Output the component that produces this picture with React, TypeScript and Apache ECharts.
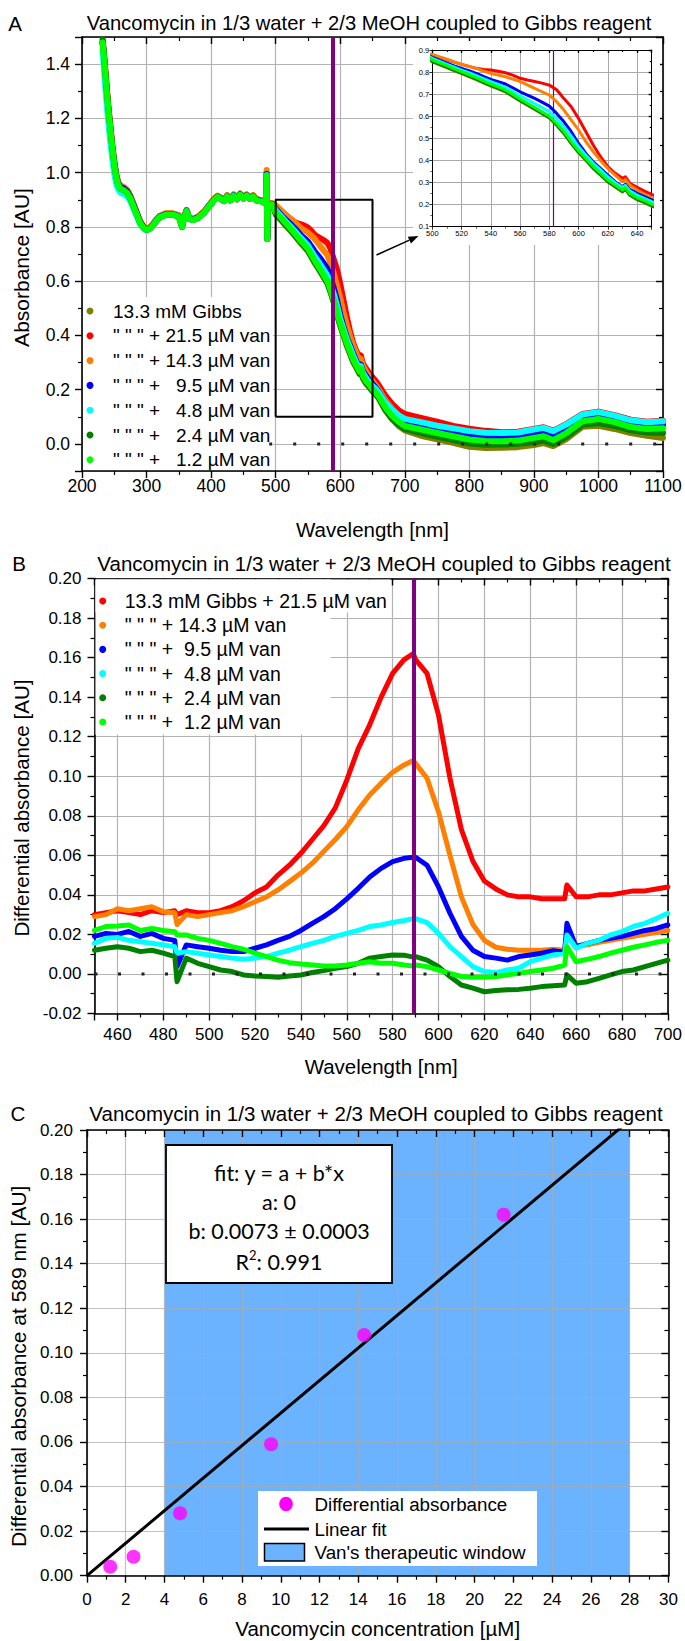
import React, { useEffect, useRef } from "react";
import * as echarts from "echarts";

// ---------- fonts & colours ----------
const FONT = "'Liberation Sans', Arial, sans-serif";
const BOX_FONT = "Lato, 'Open Sans', sans-serif";
const GRID_GRAY = "#b3b3b3";
const PURPLE = "#800080";
const C_OLIVE = "#808000";
const C_RED = "#ff0000";
const C_ORANGE = "#ff8000";
const C_BLUE = "#0000ff";
const C_CYAN = "#00ffff";
const C_DGREEN = "#008000";
const C_GREEN = "#00ff00";
const WINDOW_BLUE = "#6bb3ff";
const MAGENTA = "#ff00ff";

const TITLE = "Vancomycin in 1/3 water + 2/3 MeOH coupled to Gibbs reagent";

// ---------- panel A: absorbance spectra ----------
const aWavelengths = [
  232, 235, 238, 241, 244, 247, 250, 253, 256, 260, 265, 270, 275, 280, 285, 290, 295, 300, 305, 310,
  315, 320, 330, 340, 350, 355, 358, 362, 366, 372, 380, 390, 400, 405, 410, 415, 420, 425, 430, 435,
  440, 445, 450, 455, 460, 465, 470, 475, 480, 485, 486, 487, 488, 490, 495,
  500, 505, 510, 515, 520, 525, 530, 535, 540, 545, 550, 555, 560, 565, 570, 575, 580, 585, 590, 595,
  600, 605, 610, 615, 620, 625, 630, 632, 635, 640, 645, 650,
  655, 660, 670, 680, 690, 700, 725, 750, 775, 800, 825, 850, 875, 900, 915, 930, 950, 975, 1000, 1025,
  1050, 1075, 1100,
];

const aGibbs = [
  1.48, 1.40, 1.31, 1.23, 1.16, 1.09, 1.03, 0.985, 0.955, 0.940, 0.935, 0.925, 0.905, 0.875, 0.845, 0.815, 0.797, 0.789, 0.793, 0.806,
  0.822, 0.835, 0.845, 0.845, 0.838, 0.800, 0.832, 0.858, 0.830, 0.825, 0.833, 0.855, 0.885, 0.900, 0.910, 0.903, 0.895, 0.912, 0.898, 0.915,
  0.902, 0.918, 0.905, 0.915, 0.903, 0.912, 0.898, 0.895, 0.893, 0.885, 0.985, 0.755, 0.885, 0.884, 0.882,
  0.846, 0.833, 0.820, 0.806, 0.793, 0.780, 0.766, 0.751, 0.737, 0.724, 0.710, 0.690, 0.669, 0.650, 0.631, 0.611, 0.592, 0.559, 0.521, 0.476,
  0.435, 0.400, 0.363, 0.333, 0.302, 0.280, 0.257, 0.269, 0.242, 0.222, 0.209, 0.193,
  0.183, 0.166, 0.123, 0.091, 0.067, 0.050, 0.030, 0.017, 0.004, -0.011, -0.015, -0.014, -0.012, -0.004, 0.003, -0.008, 0.018, 0.063, 0.067, 0.055,
  0.040, 0.030, 0.022,
];
const aVan215 = [
  1.48, 1.41, 1.32, 1.24, 1.17, 1.10, 1.04, 0.993, 0.964, 0.950, 0.945, 0.935, 0.913, 0.882, 0.851, 0.820, 0.802, 0.793, 0.797, 0.810,
  0.826, 0.839, 0.849, 0.849, 0.842, 0.804, 0.836, 0.862, 0.834, 0.829, 0.837, 0.859, 0.889, 0.904, 0.914, 0.907, 0.899, 0.916, 0.902, 0.919,
  0.906, 0.922, 0.909, 0.919, 0.907, 0.916, 0.902, 0.899, 0.897, 0.889, 1.000, 0.758, 0.889, 0.888, 0.886,
  0.877, 0.866, 0.855, 0.845, 0.835, 0.826, 0.817, 0.812, 0.809, 0.804, 0.797, 0.786, 0.772, 0.764, 0.757, 0.750, 0.741, 0.720, 0.680, 0.643,
  0.590, 0.530, 0.470, 0.417, 0.372, 0.342, 0.319, 0.326, 0.297, 0.278, 0.261, 0.246,
  0.232, 0.215, 0.178, 0.148, 0.125, 0.110, 0.096, 0.082, 0.066, 0.056, 0.048, 0.043, 0.045, 0.055, 0.061, 0.049, 0.073, 0.110, 0.119, 0.106,
  0.089, 0.082, 0.085,
];
const aVan143 = [
  1.49, 1.41, 1.32, 1.24, 1.17, 1.10, 1.04, 0.995, 0.966, 0.952, 0.947, 0.937, 0.915, 0.884, 0.853, 0.822, 0.803, 0.794, 0.798, 0.811,
  0.827, 0.840, 0.850, 0.850, 0.843, 0.805, 0.837, 0.863, 0.835, 0.830, 0.838, 0.860, 0.890, 0.905, 0.915, 0.908, 0.900, 0.917, 0.903, 0.920,
  0.907, 0.923, 0.910, 0.920, 0.908, 0.917, 0.903, 0.900, 0.898, 0.890, 1.010, 0.760, 0.890, 0.889, 0.887,
  0.880, 0.869, 0.858, 0.846, 0.835, 0.826, 0.817, 0.805, 0.794, 0.787, 0.779, 0.768, 0.757, 0.742, 0.726, 0.711, 0.696, 0.666, 0.628, 0.583,
  0.538, 0.485, 0.440, 0.400, 0.364, 0.334, 0.304, 0.314, 0.289, 0.266, 0.248, 0.231,
  0.216, 0.199, 0.160, 0.130, 0.105, 0.088, 0.072, 0.058, 0.044, 0.028, 0.022, 0.022, 0.024, 0.034, 0.040, 0.030, 0.052, 0.090, 0.102, 0.090,
  0.072, 0.065, 0.068,
];
const aVan95 = [
  1.48, 1.40, 1.31, 1.23, 1.16, 1.09, 1.035, 0.990, 0.960, 0.946, 0.941, 0.931, 0.910, 0.880, 0.849, 0.818, 0.800, 0.791, 0.795, 0.808,
  0.824, 0.837, 0.847, 0.847, 0.840, 0.802, 0.834, 0.860, 0.832, 0.827, 0.835, 0.857, 0.887, 0.902, 0.912, 0.905, 0.897, 0.914, 0.900, 0.917,
  0.904, 0.920, 0.907, 0.917, 0.905, 0.914, 0.900, 0.897, 0.895, 0.887, 0.995, 0.758, 0.887, 0.886, 0.884,
  0.867, 0.853, 0.840, 0.828, 0.817, 0.806, 0.794, 0.780, 0.767, 0.757, 0.746, 0.729, 0.711, 0.696, 0.681, 0.664, 0.646, 0.613, 0.575, 0.530,
  0.477, 0.432, 0.394, 0.364, 0.334, 0.304, 0.281, 0.292, 0.269, 0.251, 0.236, 0.221,
  0.207, 0.190, 0.152, 0.124, 0.102, 0.087, 0.073, 0.059, 0.046, 0.031, 0.026, 0.026, 0.028, 0.038, 0.044, 0.034, 0.056, 0.094, 0.107, 0.094,
  0.076, 0.069, 0.072,
];
const aVan48 = [
  1.45, 1.35, 1.26, 1.18, 1.11, 1.05, 0.995, 0.958, 0.938, 0.925, 0.920, 0.912, 0.893, 0.866, 0.838, 0.810, 0.795, 0.787, 0.792, 0.805,
  0.822, 0.835, 0.845, 0.845, 0.838, 0.800, 0.832, 0.858, 0.830, 0.825, 0.833, 0.855, 0.885, 0.900, 0.910, 0.903, 0.895, 0.912, 0.898, 0.915,
  0.902, 0.918, 0.905, 0.915, 0.903, 0.912, 0.898, 0.895, 0.893, 0.885, 0.990, 0.755, 0.885, 0.884, 0.882,
  0.862, 0.848, 0.835, 0.822, 0.809, 0.797, 0.784, 0.770, 0.757, 0.744, 0.731, 0.712, 0.693, 0.676, 0.658, 0.640, 0.621, 0.590, 0.553, 0.510,
  0.462, 0.424, 0.387, 0.357, 0.326, 0.299, 0.277, 0.287, 0.263, 0.243, 0.228, 0.213,
  0.203, 0.188, 0.152, 0.126, 0.106, 0.092, 0.080, 0.067, 0.057, 0.047, 0.041, 0.040, 0.042, 0.053, 0.059, 0.047, 0.071, 0.108, 0.117, 0.104,
  0.087, 0.080, 0.083,
];
const aVan24 = [
  1.49, 1.40, 1.31, 1.23, 1.16, 1.09, 1.03, 0.985, 0.955, 0.940, 0.935, 0.925, 0.905, 0.875, 0.845, 0.815, 0.797, 0.789, 0.793, 0.806,
  0.822, 0.835, 0.845, 0.845, 0.838, 0.800, 0.832, 0.858, 0.830, 0.825, 0.833, 0.855, 0.885, 0.900, 0.910, 0.903, 0.895, 0.912, 0.898, 0.915,
  0.902, 0.918, 0.905, 0.915, 0.903, 0.912, 0.898, 0.895, 0.893, 0.885, 0.980, 0.755, 0.885, 0.884, 0.882,
  0.849, 0.836, 0.823, 0.809, 0.796, 0.783, 0.769, 0.754, 0.740, 0.727, 0.713, 0.693, 0.672, 0.653, 0.634, 0.614, 0.595, 0.562, 0.524, 0.479,
  0.438, 0.403, 0.366, 0.336, 0.305, 0.283, 0.260, 0.272, 0.245, 0.225, 0.212, 0.196,
  0.184, 0.168, 0.126, 0.095, 0.072, 0.055, 0.040, 0.027, 0.014, 0.001, -0.003, -0.002, 0.000, 0.006, 0.012, 0.000, 0.026, 0.070, 0.077, 0.066,
  0.050, 0.042, 0.040,
];
const aVan12 = [
  1.48, 1.40, 1.31, 1.23, 1.16, 1.09, 1.03, 0.985, 0.955, 0.940, 0.935, 0.925, 0.905, 0.875, 0.845, 0.815, 0.797, 0.789, 0.793, 0.806,
  0.822, 0.835, 0.845, 0.845, 0.838, 0.800, 0.832, 0.858, 0.830, 0.825, 0.833, 0.855, 0.885, 0.900, 0.910, 0.903, 0.895, 0.912, 0.898, 0.915,
  0.902, 0.918, 0.905, 0.915, 0.903, 0.912, 0.898, 0.895, 0.893, 0.885, 0.990, 0.755, 0.885, 0.884, 0.882,
  0.855, 0.842, 0.829, 0.815, 0.802, 0.789, 0.775, 0.760, 0.746, 0.733, 0.719, 0.699, 0.678, 0.659, 0.640, 0.620, 0.601, 0.568, 0.530, 0.485,
  0.444, 0.409, 0.372, 0.342, 0.311, 0.289, 0.266, 0.278, 0.251, 0.231, 0.218, 0.202,
  0.190, 0.174, 0.134, 0.104, 0.082, 0.066, 0.053, 0.040, 0.028, 0.016, 0.011, 0.010, 0.012, 0.022, 0.028, 0.014, 0.040, 0.083, 0.092, 0.080,
  0.062, 0.055, 0.058,
];

const aNames = [
  "13.3 mM Gibbs",
  '" " " + 21.5 µM van',
  '" " " + 14.3 µM van',
  '" " " +\u00A0\u00A0\u00A09.5 µM van',
  '" " " +\u00A0\u00A0\u00A04.8 µM van',
  '" " " +\u00A0\u00A0\u00A02.4 µM van',
  '" " " +\u00A0\u00A0\u00A01.2 µM van',
];
const aValues = [aGibbs, aVan215, aVan143, aVan95, aVan48, aVan24, aVan12];
const aColors = [C_OLIVE, C_RED, C_ORANGE, C_BLUE, C_CYAN, C_DGREEN, C_GREEN];

const peakWavelength = 589;
const insetMarkerWavelength = 583;
const insetWavelengthRange = [500, 650];
const insetAbsRange = [0.1, 0.9];
const zeroLineA = [[490, 0], [1100, 0]];

// ---------- panel B: differential absorbance ----------
const bWavelengths = [
  450, 455, 460, 465, 470, 475, 480, 485, 486, 490, 495, 500, 505, 510, 515, 520, 525, 530, 535, 540,
  545, 550, 555, 560, 565, 570, 575, 580, 585, 589, 590, 595, 600, 605, 610, 615, 620, 625, 630, 635,
  640, 645, 650, 655, 656, 660, 665, 670, 675, 680, 685, 690, 695, 700,
];
const bVan215 = [
  0.030, 0.031, 0.032, 0.031, 0.030, 0.032, 0.031, 0.032, 0.030, 0.032, 0.031, 0.031, 0.032, 0.034, 0.037, 0.041, 0.044, 0.050, 0.055, 0.061,
  0.068, 0.075, 0.084, 0.098, 0.114, 0.126, 0.140, 0.152, 0.159, 0.162, 0.159, 0.152, 0.131, 0.099, 0.073, 0.057, 0.047, 0.043, 0.040, 0.039,
  0.039, 0.038, 0.038, 0.038, 0.045, 0.039, 0.039, 0.040, 0.040, 0.041, 0.042, 0.042, 0.043, 0.044,
];
const bVan143 = [
  0.029, 0.030, 0.033, 0.032, 0.033, 0.034, 0.0315, 0.031, 0.025, 0.030, 0.029, 0.030, 0.031, 0.032, 0.034, 0.0365, 0.039, 0.0425, 0.0467, 0.051,
  0.056, 0.062, 0.068, 0.0745, 0.083, 0.0905, 0.0965, 0.102, 0.1057, 0.108, 0.1065, 0.099, 0.082, 0.060, 0.039, 0.025, 0.017, 0.0135, 0.0125, 0.012,
  0.012, 0.012, 0.0125, 0.012, 0.020, 0.014, 0.0147, 0.016, 0.017, 0.018, 0.019, 0.020, 0.021, 0.022,
];
const bVan95 = [
  0.019, 0.0205, 0.020, 0.0215, 0.019, 0.0205, 0.018, 0.017, 0.0037, 0.0147, 0.0138, 0.013, 0.012, 0.0113, 0.0113, 0.013, 0.0147, 0.017, 0.019, 0.022,
  0.0256, 0.029, 0.033, 0.038, 0.0433, 0.049, 0.0534, 0.0568, 0.0585, 0.059, 0.059, 0.055, 0.044, 0.0307, 0.019, 0.012, 0.0088, 0.008, 0.007, 0.0088,
  0.0096, 0.0105, 0.0118, 0.011, 0.0256, 0.0138, 0.0155, 0.017, 0.018, 0.019, 0.0205, 0.022, 0.023, 0.0248,
];
const bVan48 = [
  0.0155, 0.018, 0.0185, 0.017, 0.0163, 0.0155, 0.0147, 0.0138, 0.0105, 0.0113, 0.0105, 0.0096, 0.0088, 0.008, 0.0074, 0.008, 0.0088, 0.0105, 0.012, 0.0138,
  0.0155, 0.017, 0.019, 0.0205, 0.022, 0.024, 0.0248, 0.026, 0.027, 0.028, 0.028, 0.026, 0.0205, 0.0138, 0.0088, 0.0037, 0.0012, 0.0007, 0.002, 0.0029,
  0.0062, 0.008, 0.0096, 0.0105, 0.0197, 0.013, 0.0155, 0.017, 0.0197, 0.0214, 0.024, 0.0256, 0.028, 0.0307,
];
const bVan24 = [
  0.012, 0.013, 0.0138, 0.013, 0.0113, 0.012, 0.0105, 0.0088, -0.0039, 0.008, 0.0054, 0.0037, 0.002, 0.0012, -0.0005, -0.001, -0.0013, -0.0017, -0.001, -0.0005,
  0.0007, 0.0017, 0.0029, 0.0037, 0.0054, 0.008, 0.0088, 0.0096, 0.0095, 0.0085, 0.0088, 0.007, 0.0037, -0.0013, -0.0056, -0.0072, -0.009, -0.0084, -0.008, -0.0078,
  -0.0072, -0.0064, -0.006, -0.0056, -0.0005, -0.0047, -0.0039, -0.0022, -0.0005, 0.0012, 0.002, 0.0037, 0.0054, 0.007,
];
const bVan12 = [
  0.022, 0.024, 0.0243, 0.0248, 0.022, 0.023, 0.022, 0.0214, 0.0197, 0.0197, 0.018, 0.017, 0.0155, 0.0138, 0.0125, 0.0105, 0.0088, 0.007, 0.0057, 0.005,
  0.0045, 0.004, 0.004, 0.0045, 0.0054, 0.0062, 0.0054, 0.0054, 0.0045, 0.004, 0.0045, 0.0037, 0.002, 0.0003, -0.0013, -0.0017, -0.0017, -0.0013, -0.0005, 0.0003,
  0.0012, 0.002, 0.0029, 0.0045, 0.0138, 0.0062, 0.0074, 0.0088, 0.0105, 0.012, 0.0135, 0.0147, 0.016, 0.017,
];
const bNames = [
  "13.3 mM Gibbs + 21.5 µM van",
  '" " " + 14.3 µM van',
  '" " " +\u00A0\u00A09.5 µM van',
  '" " " +\u00A0\u00A04.8 µM van',
  '" " " +\u00A0\u00A02.4 µM van',
  '" " " +\u00A0\u00A01.2 µM van',
];
const bValues = [bVan215, bVan143, bVan95, bVan48, bVan24, bVan12];
const bColors = [C_RED, C_ORANGE, C_BLUE, C_CYAN, C_DGREEN, C_GREEN];
const zeroLineB = [[450, 0], [700, 0]];

// ---------- panel C: calibration ----------
const cConcentrations = [1.2, 2.4, 4.8, 9.5, 14.3, 21.5];
const cDiffAbs = [0.004, 0.0085, 0.028, 0.059, 0.108, 0.162];
const fitA = 0;
const fitB = 0.0073;
const fitRange = [0, 30];
const therapeuticWindow = [4, 28];

// ---------- axis helpers ----------
const blackLine = (width: number) => ({ color: "#000", width });

function baseAxis(gridIndex: number, labelSize: number, labelMargin: number, extra: any) {
  return {
    type: "value",
    gridIndex,
    axisLine: { show: true, onZero: false, lineStyle: blackLine(1.6) },
    axisTick: { show: true, inside: false, length: 7, lineStyle: blackLine(1.4) },
    minorTick: { show: true, splitNumber: 2, length: 4, lineStyle: blackLine(1.2) },
    splitLine: { show: true, lineStyle: { color: GRID_GRAY, width: 1.2 } },
    nameLocation: "middle",
    ...extra,
    nameTextStyle: {
      color: "#000",
      fontSize: 20.5,
      fontFamily: FONT,
      ...(extra.nameTextStyle || {}),
    },
    axisLabel: {
      show: true,
      color: "#000",
      fontSize: labelSize,
      fontFamily: FONT,
      margin: labelMargin,
      formatter: (v: number) => String(v),
      ...(extra.axisLabel || {}),
    },
  };
}

function mirrorAxis(gridIndex: number, extra: any, tick = 7, minor = 4, width = 1.6) {
  return {
    type: "value",
    gridIndex,
    axisLine: { show: true, onZero: false, lineStyle: blackLine(width) },
    axisTick: { show: true, inside: true, length: tick, lineStyle: blackLine(1.4) },
    minorTick: { show: true, splitNumber: 2, length: minor, lineStyle: blackLine(1.2) },
    axisLabel: { show: false },
    splitLine: { show: false },
    ...extra,
  };
}

function pairs(xs: number[], ys: number[]) {
  return xs.map((x, i) => [x, ys[i]]);
}

function buildOption() {
  const aRangeX = { min: 200, max: 1100, interval: 100 };
  const aRangeY = { min: -0.1, max: 1.5, splitNumber: 8 };
  const insX = { min: insetWavelengthRange[0], max: insetWavelengthRange[1], interval: 20 };
  const insY = { min: insetAbsRange[0], max: insetAbsRange[1], interval: 0.1 };
  const bRangeX = { min: 450, max: 700, splitNumber: 12 };
  const bRangeY = { min: -0.02, max: 0.2, interval: 0.02 };
  const cRangeX = { min: fitRange[0], max: fitRange[1], interval: 2 };
  const cRangeY = { min: 0, max: 0.2, interval: 0.02 };

  const xAxis: any[] = [
    // 0,1: panel A
    baseAxis(0, 17.5, 6, { ...aRangeX, position: "bottom", name: "Wavelength [nm]", nameGap: 48 }),
    mirrorAxis(0, { ...aRangeX, position: "top" }),
    // 2,3: inset
    baseAxis(1, 7.5, 3, {
      ...insX,
      position: "bottom",
      z: 4,
      axisTick: { show: true, length: 3, lineStyle: blackLine(0.8) },
      minorTick: { show: true, splitNumber: 2, length: 2, lineStyle: blackLine(0.6) },
      axisLine: { show: true, onZero: false, lineStyle: blackLine(1) },
      splitLine: { show: true, lineStyle: { color: "#a8a8a8", width: 1 } },
      axisLabel: { showMaxLabel: false },
    }),
    mirrorAxis(1, { ...insX, position: "top", z: 4 }, 3, 2, 1),
    // 4,5: panel B
    baseAxis(2, 17, 12, {
      ...bRangeX,
      position: "bottom",
      name: "Wavelength [nm]",
      nameGap: 42,
      axisLabel: { showMinLabel: false },
    }),
    mirrorAxis(2, { ...bRangeX, position: "top" }),
    // 6,7: panel C
    baseAxis(3, 17, 15, {
      ...cRangeX,
      position: "bottom",
      z: 2,
      name: "Vancomycin concentration [µM]",
      nameGap: 42,
      splitLine: { show: true, lineStyle: { color: "rgba(170,170,170,0.72)", width: 1.2 } },
    }),
    mirrorAxis(3, { ...cRangeX, position: "top", z: 2 }),
  ];

  const yAxis: any[] = [
    baseAxis(0, 17.5, 12, {
      ...aRangeY,
      position: "left",
      name: "Absorbance [AU]",
      nameGap: 50,
      nameTextStyle: { fontSize: 21, padding: [0, 27, 0, 0] },
      axisLabel: { showMinLabel: false, showMaxLabel: false, formatter: (v: number) => v.toFixed(1) },
    }),
    mirrorAxis(0, { ...aRangeY, position: "right" }),
    baseAxis(1, 7.5, 3, {
      ...insY,
      position: "left",
      z: 4,
      axisTick: { show: true, length: 3, lineStyle: blackLine(0.8) },
      minorTick: { show: true, splitNumber: 2, length: 2, lineStyle: blackLine(0.6) },
      axisLine: { show: true, onZero: false, lineStyle: blackLine(1) },
      splitLine: { show: true, lineStyle: { color: "#a8a8a8", width: 1 } },
      axisLabel: { formatter: (v: number) => v.toFixed(1) },
    }),
    mirrorAxis(1, { ...insY, position: "right", z: 4 }, 3, 2, 1),
    baseAxis(2, 17, 13, {
      ...bRangeY,
      position: "left",
      name: "Differential absorbance [AU]",
      nameGap: 62,
      nameTextStyle: { fontSize: 20.6, padding: [0, 24, 0, 0] },
      axisLabel: { formatter: (v: number) => v.toFixed(2) },
    }),
    mirrorAxis(2, { ...bRangeY, position: "right" }),
    baseAxis(3, 17, 14, {
      ...cRangeY,
      position: "left",
      z: 2,
      name: "Differential absorbance at 589 nm [AU]",
      nameGap: 53,
      nameTextStyle: { fontSize: 21, padding: [0, 27, 0, 0] },
      splitLine: { show: true, lineStyle: { color: "rgba(170,170,170,0.72)", width: 1.2 } },
      axisLabel: { formatter: (v: number) => v.toFixed(2) },
    }),
    mirrorAxis(3, { ...cRangeY, position: "right", z: 2 }),
  ];

  const series: any[] = [];

  // panel A main spectra
  aValues.forEach((vals, i) => {
    series.push({
      type: "line",
      name: aNames[i],
      xAxisIndex: 0,
      yAxisIndex: 0,
      data: pairs(aWavelengths, vals),
      showSymbol: false,
      color: aColors[i],
      itemStyle: { color: aColors[i] },
      lineStyle: { color: aColors[i], width: 6, cap: "round", join: "round" },
      z: 2,
      markLine:
        i === 0
          ? {
              silent: true,
              symbol: "none",
              label: { show: false },
              lineStyle: { color: PURPLE, width: 4, type: "solid" },
              data: [{ xAxis: peakWavelength }],
            }
          : undefined,
    });
  });
  // dotted zero reference in A
  series.push({
    type: "line",
    name: "zeroA",
    xAxisIndex: 0,
    yAxisIndex: 0,
    data: zeroLineA,
    showSymbol: false,
    lineStyle: { color: "#222", width: 3, type: [3, 21] },
    z: 2,
  });
  // zoom window frame in A
  series.push({
    type: "line",
    name: "zoomFrame",
    xAxisIndex: 0,
    yAxisIndex: 0,
    data: [
      [insetWavelengthRange[0], insetAbsRange[0]],
      [insetWavelengthRange[1], insetAbsRange[0]],
      [insetWavelengthRange[1], insetAbsRange[1]],
      [insetWavelengthRange[0], insetAbsRange[1]],
      [insetWavelengthRange[0], insetAbsRange[0]],
    ],
    showSymbol: false,
    lineStyle: { color: "#000", width: 2 },
    z: 3,
  });

  // inset spectra
  aValues.forEach((vals, i) => {
    series.push({
      type: "line",
      name: aNames[i],
      xAxisIndex: 2,
      yAxisIndex: 2,
      data: pairs(aWavelengths, vals),
      showSymbol: false,
      color: aColors[i],
      itemStyle: { color: aColors[i] },
      lineStyle: { color: aColors[i], width: 3, cap: "round", join: "round" },
      z: 5,
      markLine:
        i === 0
          ? {
              silent: true,
              symbol: "none",
              label: { show: false },
              lineStyle: { color: PURPLE, width: 1.2, type: "solid" },
              data: [{ xAxis: insetMarkerWavelength }],
            }
          : undefined,
    });
  });

  // panel B spectra
  bValues.forEach((vals, i) => {
    series.push({
      type: "line",
      name: bNames[i],
      xAxisIndex: 4,
      yAxisIndex: 4,
      data: pairs(bWavelengths, vals),
      showSymbol: false,
      color: bColors[i],
      itemStyle: { color: bColors[i] },
      lineStyle: { color: bColors[i], width: 5, cap: "round", join: "round" },
      z: 2,
      markLine:
        i === 0
          ? {
              silent: true,
              symbol: "none",
              label: { show: false },
              lineStyle: { color: PURPLE, width: 4, type: "solid" },
              data: [{ xAxis: peakWavelength }],
            }
          : undefined,
    });
  });
  series.push({
    type: "line",
    name: "zeroB",
    xAxisIndex: 4,
    yAxisIndex: 4,
    data: zeroLineB,
    showSymbol: false,
    lineStyle: { color: "#222", width: 3, type: [3, 20.5] },
    z: 2,
  });

  // panel C
  series.push({
    type: "line",
    name: "Van's therapeutic window",
    xAxisIndex: 6,
    yAxisIndex: 6,
    data: [],
    z: 1,
    markArea: {
      silent: true,
      itemStyle: { color: WINDOW_BLUE },
      data: [[{ xAxis: therapeuticWindow[0] }, { xAxis: therapeuticWindow[1] }]],
    },
  });
  series.push({
    type: "line",
    name: "Linear fit",
    xAxisIndex: 6,
    yAxisIndex: 6,
    data: fitRange.map((x) => [x, fitA + fitB * x]),
    showSymbol: false,
    lineStyle: { color: "#000", width: 3 },
    z: 3,
  });
  series.push({
    type: "scatter",
    name: "Differential absorbance",
    xAxisIndex: 6,
    yAxisIndex: 6,
    data: pairs(cConcentrations, cDiffAbs),
    symbol: "circle",
    symbolSize: 14,
    itemStyle: { color: MAGENTA },
    z: 4,
  });

  const legendText = (size: number) => ({ fontSize: size, fontFamily: FONT, color: "#000", lineHeight: 20 });

  const legend = [
    {
      orient: "vertical",
      left: 86.5,
      top: 301,
      padding: 0,
      itemGap: 4.8,
      itemWidth: 36,
      itemHeight: 7,
      icon: "circle",
      selectedMode: false,
      itemStyle: { borderWidth: 0 },
      textStyle: legendText(19),
      data: aNames,
    },
    {
      orient: "vertical",
      left: 99.2,
      top: 591,
      padding: 0,
      itemGap: 4.2,
      itemWidth: 34,
      itemHeight: 7,
      icon: "circle",
      selectedMode: false,
      itemStyle: { borderWidth: 0 },
      textStyle: legendText(19.5),
      data: bNames,
    },
  ];

  const txt = (x: number, y: number, text: string, size: number, extra: any = {}) => ({
    type: "text",
    x,
    y,
    z: 6,
    style: {
      text,
      fontSize: size,
      fontFamily: FONT,
      fill: "#000",
      align: "center",
      verticalAlign: "middle",
      ...extra,
    },
  });

  // arrow from zoom frame to inset
  const tail = [376.5, 255];
  const tip = [418.5, 236];
  const dx = tip[0] - tail[0];
  const dy = tip[1] - tail[1];
  const len = Math.hypot(dx, dy);
  const ux = dx / len;
  const uy = dy / len;
  const baseX = tip[0] - 10 * ux;
  const baseY = tip[1] - 10 * uy;

  const graphic = {
    elements: [
      // panel titles and letters
      txt(15, 23, "A", 20.5),
      txt(369, 23, TITLE, 20.2),
      txt(19, 563, "B", 20.5),
      txt(384, 563, TITLE, 20.5),
      txt(18, 1113, "C", 20.5),
      txt(376, 1113, TITLE, 20.5),
      // inset background
      { type: "rect", z: 3, shape: { x: 413, y: 41, width: 247, height: 204 }, style: { fill: "#fff" } },
      // legend backgrounds
      { type: "rect", z: 1, shape: { x: 83, y: 297, width: 190, height: 173 }, style: { fill: "#fff" } },
      { type: "rect", z: 1, shape: { x: 95.5, y: 579.5, width: 235, height: 155 }, style: { fill: "#fff" } },
      { type: "rect", z: 1, shape: { x: 95.5, y: 579.5, width: 295, height: 33 }, style: { fill: "#fff" } },
      // arrow
      {
        type: "line",
        z: 6,
        shape: { x1: tail[0], y1: tail[1], x2: baseX, y2: baseY },
        style: { stroke: "#000", lineWidth: 1.5 },
      },
      {
        type: "polygon",
        z: 6,
        shape: {
          points: [
            [tip[0], tip[1]],
            [baseX + 3.8 * uy, baseY - 3.8 * ux],
            [baseX - 3.8 * uy, baseY + 3.8 * ux],
          ],
        },
        style: { fill: "#000" },
      },
      // fit result box
      {
        type: "rect",
        z: 5,
        shape: { x: 166, y: 1145, width: 226, height: 138 },
        style: { fill: "#fff", stroke: "#000", lineWidth: 1.8 },
      },
      txt(279, 1173, "fit: y = a + b*x", 21.5, { fontFamily: BOX_FONT }),
      txt(279, 1202, "a: 0", 21.5, { fontFamily: BOX_FONT }),
      txt(279, 1231, `b: ${fitB.toFixed(4)} ± 0.0003`, 21.5, { fontFamily: BOX_FONT }),
      {
        type: "text",
        x: 279,
        y: 1260,
        z: 6,
        style: {
          text: "{b|R}{s|2}{b|: 0.991}",
          align: "center",
          verticalAlign: "middle",
          fill: "#000",
          rich: {
            b: { fontSize: 21.5, fontFamily: BOX_FONT, fill: "#000", lineHeight: 26, verticalAlign: "bottom" },
            s: { fontSize: 13, fontFamily: BOX_FONT, fill: "#000", lineHeight: 26, verticalAlign: "top", padding: [1, 0, 0, 0] },
          },
        },
      },
      // panel C legend
      {
        type: "rect",
        z: 5,
        shape: { x: 258, y: 1491, width: 279, height: 75 },
        style: { fill: "#fff" },
      },
      { type: "ellipse", z: 6, shape: { cx: 286, cy: 1504, rx: 6.8, ry: 7.2 }, style: { fill: MAGENTA } },
      {
        type: "line",
        z: 6,
        shape: { x1: 264, y1: 1529, x2: 309, y2: 1529 },
        style: { stroke: "#000", lineWidth: 3 },
      },
      {
        type: "rect",
        z: 6,
        shape: { x: 264.5, y: 1543.5, width: 40, height: 17.5 },
        style: { fill: WINDOW_BLUE, stroke: "#000", lineWidth: 1.5 },
      },
      txt(314.5, 1504, "Differential absorbance", 18.8, { align: "left" }),
      txt(314.5, 1529, "Linear fit", 18.8, { align: "left" }),
      txt(314.5, 1552, "Van's therapeutic window", 18.8, { align: "left" }),
    ],
  };

  return {
    animation: false,
    backgroundColor: "#fff",
    textStyle: { fontFamily: FONT },
    grid: [
      { left: 82, top: 37, width: 581, height: 434, containLabel: false },
      { left: 432.3, top: 50, width: 219.4, height: 176.7, containLabel: false },
      { left: 94.5, top: 578.5, width: 580.5, height: 435, containLabel: false },
      { left: 84, top: 1130, width: 584.4, height: 445.7, containLabel: false },
    ],
    xAxis,
    yAxis,
    legend,
    series,
    graphic,
  };
}

export default function App() {
  const ref = useRef<HTMLDivElement>(null);
  useEffect(() => {
    if (!ref.current) return;
    const chart = echarts.init(ref.current, null, { renderer: "svg" });
    chart.setOption(buildOption() as any);
    return () => chart.dispose();
  }, []);
  return (
    <div
      ref={ref}
      style={{ position: "absolute", left: 0, top: 0, width: 685, height: 1641, background: "#fff" }}
    />
  );
}
